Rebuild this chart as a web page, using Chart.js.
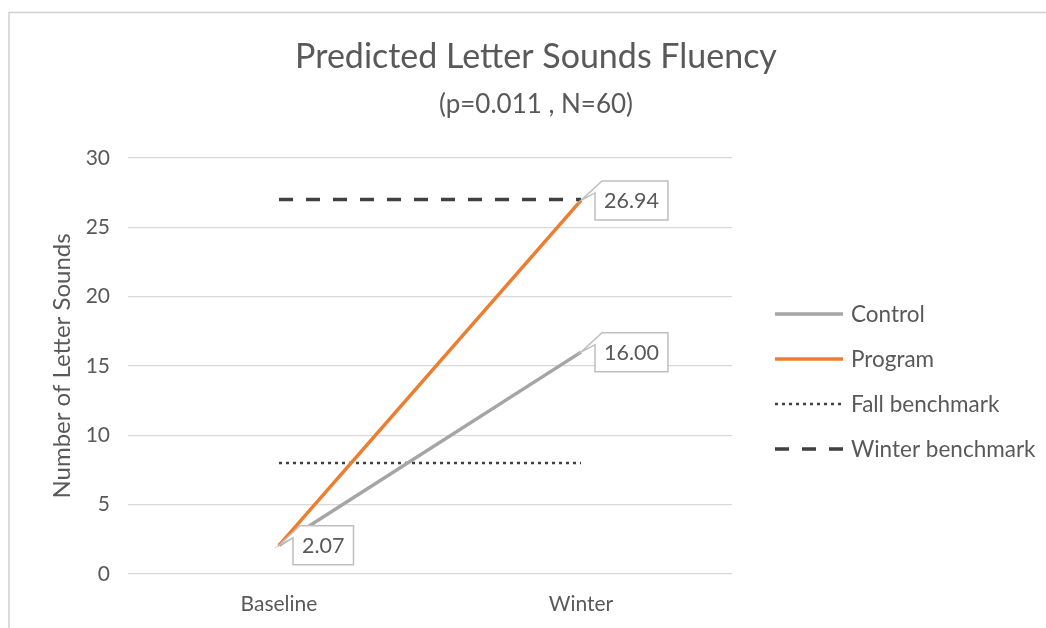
<!DOCTYPE html>
<html>
<head>
<meta charset="utf-8">
<script src="https://cdn.jsdelivr.net/npm/chart.js@4.4.1/dist/chart.umd.min.js"></script>
<style>
  html, body { margin: 0; padding: 0; background: #ffffff; }
  #wrap { width: 1046px; height: 628px; position: relative; }
</style>
</head>
<body>
<div id="wrap"><canvas id="c" width="1046" height="628"></canvas></div>
<script>
// ---- data ----
const categories = ['Baseline', 'Winter'];
const controlValues = [2.07, 16.00];
const programValues = [2.07, 26.94];
const fallBenchmark = [8, 8];
const winterBenchmark = [27, 27];
const seriesNames = ['Control', 'Program', 'Fall benchmark', 'Winter benchmark'];
const yTicks = [0, 5, 10, 15, 20, 25, 30];
const titleText = 'Predicted Letter Sounds Fluency';
const subtitleText = '(p=0.011 , N=60)';
const yAxisTitle = 'Number of Letter Sounds';
// labels: [datasetIndex, pointIndex]
const labelledPoints = [[1, 0], [1, 1], [0, 1]];

const FONT = 'Lato, "Open Sans", sans-serif';
const TEXT = '#595959';

const framePlugin = {
  id: 'frame',
  beforeDraw(chart) {
    const ctx = chart.ctx;
    ctx.save();
    ctx.fillStyle = '#ffffff';
    ctx.fillRect(0, 0, chart.width, chart.height);
    ctx.strokeStyle = '#d0d0d0';
    ctx.lineWidth = 1.5;
    ctx.strokeRect(9, 12.5, chart.width + 20, chart.height + 20);
    ctx.restore();
  }
};

const labelPlugin = {
  id: 'calloutLabels',
  afterDatasetsDraw(chart) {
    const ctx = chart.ctx;
    ctx.save();
    ctx.font = '21.5px ' + FONT;
    labelledPoints.forEach(([di, pi]) => {
      const el = chart.getDatasetMeta(di).data[pi];
      const val = chart.data.datasets[di].data[pi];
      const txt = val.toFixed(2);
      const px = el.x, py = el.y;
      const tw = ctx.measureText(txt).width;
      const left = px + 14, top = py - 19.5;
      const w = tw + 18, h = 39;
      ctx.beginPath();
      ctx.moveTo(left + 7, top);
      ctx.lineTo(left + w, top);
      ctx.lineTo(left + w, top + h);
      ctx.lineTo(left, top + h);
      ctx.lineTo(left, top + 12);
      ctx.lineTo(px, py);
      ctx.closePath();
      ctx.fillStyle = '#ffffff';
      ctx.fill();
      ctx.strokeStyle = '#bfbfbf';
      ctx.lineWidth = 1.5;
      ctx.stroke();
      ctx.fillStyle = TEXT;
      ctx.textAlign = 'left';
      ctx.textBaseline = 'middle';
      ctx.fillText(txt, left + 9, top + h / 2 + 1);
    });
    ctx.restore();
  }
};

const legendPlugin = {
  id: 'sideLegend',
  afterDraw(chart) {
    const ctx = chart.ctx;
    ctx.save();
    ctx.font = '22.5px ' + FONT;
    const x0 = 775, x1 = 843, tx = 851;
    const ys = [314, 359, 404, 449];
    chart.data.datasets.forEach((ds, i) => {
      const y = ys[i];
      ctx.beginPath();
      ctx.setLineDash(ds.borderDash || []);
      ctx.strokeStyle = ds.borderColor;
      ctx.lineWidth = ds.borderWidth;
      ctx.lineCap = 'butt';
      ctx.moveTo(x0, y);
      ctx.lineTo(x1, y);
      ctx.stroke();
      ctx.setLineDash([]);
      ctx.fillStyle = TEXT;
      ctx.textAlign = 'left';
      ctx.textBaseline = 'middle';
      ctx.fillText(ds.label, tx, y + 1);
    });
    ctx.restore();
  }
};

new Chart(document.getElementById('c'), {
  type: 'line',
  data: {
    labels: categories,
    datasets: [
      { label: seriesNames[0], data: controlValues, borderColor: '#a5a5a5', borderWidth: 3.5, pointRadius: 0, order: 2 },
      { label: seriesNames[1], data: programValues, borderColor: '#ed7d31', borderWidth: 3.5, pointRadius: 0, order: 1 },
      { label: seriesNames[2], data: fallBenchmark, borderColor: '#404040', borderWidth: 2.5, borderDash: [3, 4], pointRadius: 0, order: 3 },
      { label: seriesNames[3], data: winterBenchmark, borderColor: '#404040', borderWidth: 3.5, borderDash: [14, 13], pointRadius: 0, order: 0 }
    ]
  },
  options: {
    responsive: false,
    animation: false,
    devicePixelRatio: 1,
    layout: { padding: { left: 26, right: 0, top: 0, bottom: 0 } },
    plugins: {
      legend: { display: false },
      tooltip: { enabled: false },
      title: {
        display: true, text: titleText, color: TEXT,
        font: { family: FONT, size: 34, weight: 'normal', lineHeight: 1.2 },
        padding: { top: 36.6, bottom: 6 }
      },
      subtitle: {
        display: true, text: subtitleText, color: TEXT,
        font: { family: FONT, size: 26, weight: 'normal', lineHeight: 1.2 },
        padding: { top: 6, bottom: 37.4 }
      }
    },
    scales: {
      x: {
        offset: true,
        grid: { display: false, drawTicks: false },
        border: { display: false },
        ticks: { color: TEXT, font: { family: FONT, size: 21 }, padding: 18 },
        afterFit(s) { s.height = 54; }
      },
      y: {
        min: 0, max: 30,
        afterBuildTicks(s) { s.ticks = yTicks.map(v => ({ value: v })); },
        grid: { color: '#d9d9d9', lineWidth: 1.2, drawTicks: false },
        border: { display: false },
        ticks: { color: TEXT, font: { family: FONT, size: 21 }, padding: 18 },
        title: {
          display: true, text: yAxisTitle, color: TEXT,
          font: { family: FONT, size: 24 }, padding: { top: 21.6, bottom: 0 }
        },
        afterFit(s) { s.width = 102; }
      },
      yRight: {
        position: 'right', display: true,
        grid: { display: false, drawTicks: false },
        border: { display: false },
        ticks: { display: false },
        afterFit(s) { s.width = 314; }
      }
    }
  },
  plugins: [framePlugin, labelPlugin, legendPlugin]
});
</script>
</body>
</html>
